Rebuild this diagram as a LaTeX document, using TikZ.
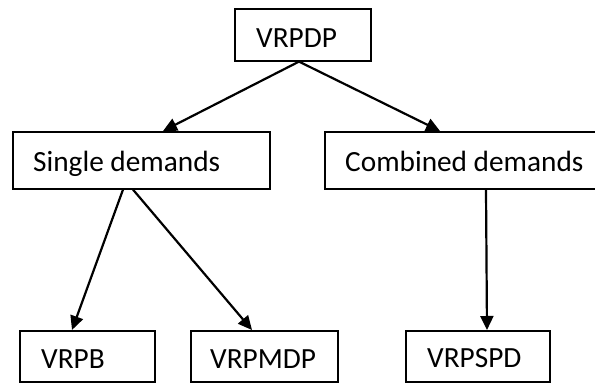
\documentclass[tikz,border=0pt]{standalone}
\usepackage{fontspec}
\setmainfont{Carlito}
\usetikzlibrary{arrows.meta}
\begin{document}
\begin{tikzpicture}[x=1pt,y=-1pt,
  box/.style={draw, line width=1.6pt, anchor=north west, inner sep=0pt},
  lbl/.style={anchor=base west, inner sep=0pt, font=\fontsize{29.3}{31}\selectfont},
  arr/.style={line width=2.2pt, -{Triangle[length=14pt,width=13pt]}}]
\useasboundingbox (0,0) rectangle (595,383);
\clip (0,0) rectangle (595,383);
% boxes
\node[box, minimum width=136pt, minimum height=52pt] (vrpdp) at (234,8) {};
\node[box, minimum width=257pt, minimum height=57pt] (single) at (12,131) {};
\node[box, minimum width=280pt, minimum height=57pt] (combined) at (324,131) {};
\node[box, minimum width=135pt, minimum height=51pt] (vrpb) at (19,330) {};
\node[box, minimum width=147pt, minimum height=51pt] (vrpmdp) at (190,330) {};
\node[box, minimum width=144pt, minimum height=51pt] (vrpspd) at (405,330) {};
% labels
\node[lbl] (vrpdp-t) at (256,47) {VRPDP};
\node[lbl] (single-t) at (33,171) {Single demands};
\node[lbl] (combined-t) at (345,171) {Combined demands};
\node[lbl] (vrpb-t) at (41,368) {VRPB};
\node[lbl] (vrpmdp-t) at (210,368) {VRPMDP};
\node[lbl] (vrpspd-t) at (427,367) {VRPSPD};
% connectors
\draw[arr] ([xshift=65pt]vrpdp.south west) -- ([xshift=151pt]single.north west);
\draw[arr] ([xshift=65pt]vrpdp.south west) -- ([xshift=116pt]combined.north west);
\draw[arr] ([xshift=111pt]single.south west) -- ([xshift=53pt]vrpb.north west);
\draw[arr] ([xshift=121pt]single.south west) -- ([xshift=62pt]vrpmdp.north west);
\draw[arr] ([xshift=162pt]combined.south west) -- ([xshift=82pt]vrpspd.north west);
\end{tikzpicture}
\end{document}
